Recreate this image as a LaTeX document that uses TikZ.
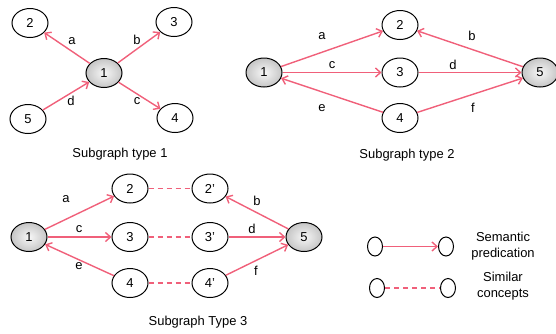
\documentclass[tikz,border=0pt]{standalone}
\usepackage{fontspec}
\setmainfont{Liberation Sans}
\usetikzlibrary{shapes.geometric,arrows.meta}
\definecolor{edgecol}{RGB}{240,96,122}
\tikzset{
  nd/.style={ellipse,draw=black,line width=1bp,minimum width=36bp,minimum height=29bp,inner sep=0pt,font=\fontsize{13}{15}\selectfont},
  hub/.style={nd,inner color=gray!6,outer color=gray!45},
  small/.style={ellipse,draw=black,line width=1bp,minimum width=15bp,minimum height=19bp,inner sep=0pt},
  rel/.style={draw=edgecol,line width=1.4bp,-{Straight Barb[length=5bp,width=9bp]}},
  sim/.style={draw=edgecol,line width=1.4bp,dash pattern=on 5bp off 4bp},
  lbl/.style={font=\fontsize{13}{15}\selectfont,inner sep=0pt},
  captxt/.style={font=\fontsize{13}{15}\selectfont,inner sep=0pt},
  leg/.style={font=\fontsize{13}{15.5}\selectfont,align=center,inner sep=0pt}
}
\begin{document}
\begin{tikzpicture}[x=1bp,y=-1bp]
\useasboundingbox (0,0) rectangle (556,333);
% Subgraph type 1
\node[hub] (a1) at (104,73) {1};
\node[nd] (a2) at (30,23) {2};
\node[nd] (a3) at (174,22) {3};
\node[nd] (a5) at (28,119) {5};
\node[nd] (a4) at (175,118) {4};
\draw[rel] (a1) -- (a2);
\draw[rel] (a1) -- (a3);
\draw[rel] (a5) -- (a1);
\draw[rel] (a1) -- (a4);
\node[lbl] (la1) at (72,41) {a};
\node[lbl] (lb1) at (137,40) {b};
\node[lbl] (ld1) at (71,101) {d};
\node[lbl] (lc1) at (137,101) {c};
\node[captxt] (cap1) at (120,154) {Subgraph type 1};
% Subgraph type 2
\node[hub] (b1) at (264,72.5) {1};
\node[nd] (b2) at (400,25) {2};
\node[nd] (b3) at (400,72.5) {3};
\node[nd] (b4) at (400,118) {4};
\node[hub] (b5) at (540,72.5) {5};
\draw[rel] (b1) -- (b2);
\draw[rel] (b5) -- (b2);
\draw[rel] (b1) -- (b3);
\draw[rel] (b3) -- (b5);
\draw[rel] (b4) -- (b1);
\draw[rel] (b4) -- (b5);
\node[lbl] (la2) at (322,36) {a};
\node[lbl] (lb2) at (472,36) {b};
\node[lbl] (lc2) at (332,65) {c};
\node[lbl] (ld2) at (453,65) {d};
\node[lbl] (le2) at (322,108) {e};
\node[lbl] (lf2) at (473,108) {f};
\node[captxt] (cap2) at (407,155) {Subgraph type 2};
% Subgraph type 3
\node[hub] (c1) at (29,237) {1};
\node[nd] (c2) at (130,188.5) {2};
\node[nd] (c2p) at (210,188.5) {2'};
\node[nd] (c3) at (130,237) {3};
\node[nd] (c3p) at (210,237) {3'};
\node[nd] (c4) at (130,283) {4};
\node[nd] (c4p) at (210,283) {4'};
\node[hub] (c5) at (304,237) {5};
\draw[rel] (c1) -- (c2);
\draw[rel] (c1) -- (c3);
\draw[rel] (c4) -- (c1);
\draw[rel] (c5) -- (c2p);
\draw[rel] (c3p) -- (c5);
\draw[rel] (c4p) -- (c5);
\draw[sim] (c2) -- (c2p);
\draw[sim] (c3) -- (c3p);
\draw[sim] (c4) -- (c4p);
\node[lbl] (la3) at (66,199) {a};
\node[lbl] (lc3) at (79,229) {c};
\node[lbl] (le3) at (79,266) {e};
\node[lbl] (lb3) at (257,201) {b};
\node[lbl] (ld3) at (252,229) {d};
\node[lbl] (lf3) at (256,271) {f};
\node[captxt] (cap3) at (198,322) {Subgraph Type 3};
% Legend
\node[small] (e1) at (375,246.5) {};
\node[small] (e2) at (446,246.5) {};
\draw[rel] (e1) -- (e2);
\node[small] (e3) at (377,288) {};
\node[small] (e4) at (448,288) {};
\draw[sim] (e3) -- (e4);
\node[leg] (t1) at (503,246) {Semantic\\predication};
\node[leg] (t2) at (503,286) {Similar\\concepts};
\end{tikzpicture}
\end{document}
